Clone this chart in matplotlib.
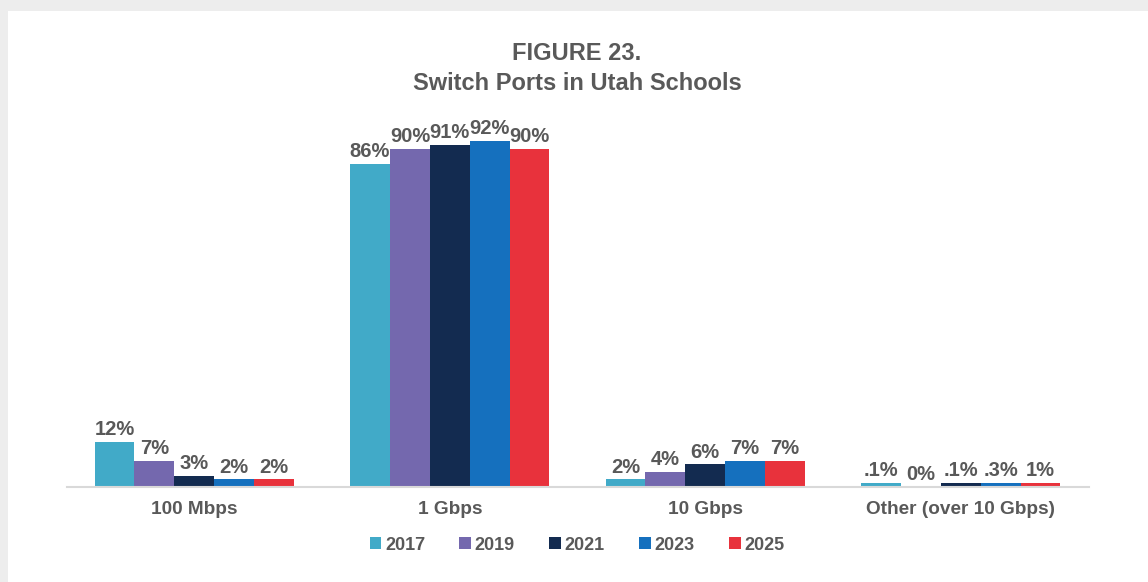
import numpy as np
import matplotlib.pyplot as plt
from matplotlib.patches import Rectangle

plt.rcParams['font.family'] = ['Liberation Sans', 'DejaVu Sans']

# -- data
categories = ['100 Mbps', '1 Gbps', '10 Gbps', 'Other (over 10 Gbps)']
years = ['2017', '2019', '2021', '2023', '2025']
heights = {
    '2017': [12, 86, 2, 1],
    '2019': [7, 90, 4, 0],
    '2021': [3, 91, 6, 1],
    '2023': [2, 92, 7, 1],
    '2025': [2, 90, 7, 1],
}
labels = {
    '2017': ['12%', '86%', '2%', '.1%'],
    '2019': ['7%', '90%', '4%', '0%'],
    '2021': ['3%', '91%', '6%', '.1%'],
    '2023': ['2%', '92%', '7%', '.3%'],
    '2025': ['2%', '90%', '7%', '1%'],
}
colors = ['#41AAC8', '#7468AE', '#132B50', '#1570BE', '#E8323C']
txt = '#595959'

fig = plt.figure(figsize=(11.48, 5.82), dpi=100, facecolor='#EDEDED')
# white card with a grey shadow on top/left
fig.patches.append(Rectangle((8/1148, 0), 1, 1 - 11/582, transform=fig.transFigure,
                             facecolor='white', edgecolor='none', zorder=-10))

ax = fig.add_axes([66.5/1148, 95/582, 1022/1148, 376/582])
ax.set_facecolor('none')

x = np.arange(len(categories))
w = 0.156
for i, (yr, c) in enumerate(zip(years, colors)):
    bars = ax.bar(x + (i - 2)*w, heights[yr], w, color=c, label=yr)
    ax.bar_label(bars, labels=labels[yr], padding=2, fontsize=14.5,
                 fontweight='bold', color=txt)

ax.set(xlim=(-0.5, 3.5), ylim=(0, 100))
ax.set_yticks([])
ax.set_xticks(x)
ax.set_xticklabels(categories, fontsize=13.7, fontweight='bold', color=txt)
ax.tick_params(axis='x', length=0, pad=10)
for s in ['top', 'right', 'left']:
    ax.spines[s].set_visible(False)
ax.spines['bottom'].set_color('#D9D9D9')
ax.spines['bottom'].set_linewidth(1.5)

fig.text(577/1148, 1 - 53/582, 'FIGURE 23.', ha='center', va='center',
         fontsize=17, fontweight='bold', color=txt)
fig.text(577/1148, 1 - 84/582, 'Switch Ports in Utah Schools', ha='center',
         va='center', fontsize=17, fontweight='bold', color=txt)

leg = fig.legend(loc='center', bbox_to_anchor=(577/1148, 1 - 545/582), ncol=5,
                 frameon=False, fontsize=13, handlelength=0.65, handleheight=0.65,
                 handletextpad=0.2, columnspacing=1.9)
for t in leg.get_texts():
    t.set_color(txt)
    t.set_fontweight('bold')

fig.savefig('out.png', dpi=100, facecolor=fig.get_facecolor())
